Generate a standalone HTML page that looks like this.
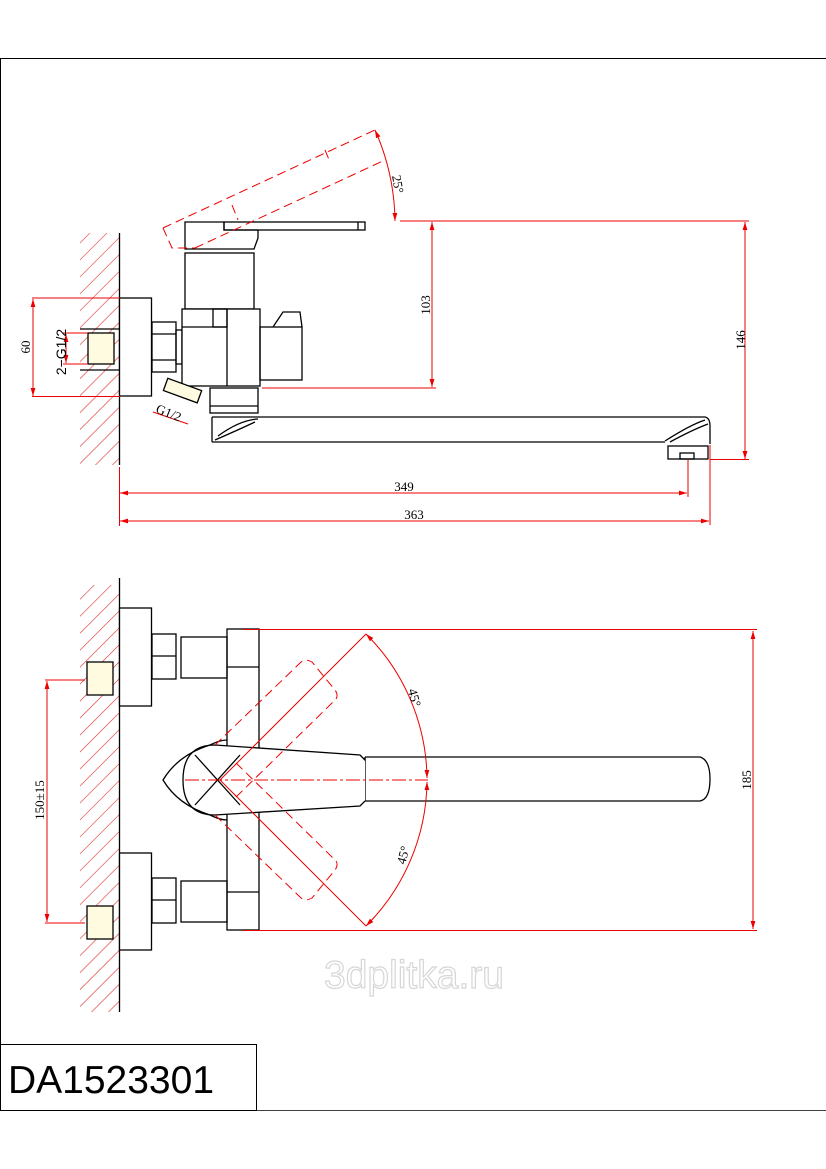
<!DOCTYPE html>
<html><head><meta charset="utf-8"><style>
html,body{margin:0;padding:0;background:#fff;}
svg{display:block;}
text{font-family:"Liberation Serif",serif;}
</style></head><body>
<svg width="826" height="1169" viewBox="0 0 826 1169" xmlns="http://www.w3.org/2000/svg">
<defs>
<pattern id="h" width="12" height="12" patternUnits="userSpaceOnUse" patternTransform="rotate(45)">
<line x1="0" y1="0" x2="0" y2="12" stroke="#e03030" stroke-width="1.2"/>
</pattern>
<marker id="a" viewBox="0 0 10 10" refX="10" refY="5" markerWidth="8" markerHeight="8" orient="auto-start-reverse"><path d="M0,2 L10,5 L0,8z" fill="#e00"/></marker>
</defs>
<!-- frame -->
<line x1="0" y1="58.5" x2="826" y2="58.5" stroke="#000"/>
<line x1="0.5" y1="58" x2="0.5" y2="1111" stroke="#000"/>
<line x1="0" y1="1110.5" x2="826" y2="1110.5" stroke="#000" stroke-width="0.7"/>
<rect x="0.5" y="1044.5" width="256" height="66" fill="none" stroke="#000"/>
<text x="8" y="1093" style="font-family:'Liberation Sans',sans-serif" font-size="39">DA1523301</text>

<g fill="none" stroke="#000" stroke-width="1.3">
<!-- TOP VIEW -->
<rect x="80" y="233" width="39" height="232" fill="url(#h)" stroke="none"/>
<line x1="119.5" y1="233" x2="119.5" y2="465"/>
<rect x="88" y="333" width="26" height="31" fill="#fffbe0"/>
<line x1="80" y1="329" x2="120" y2="329"/><line x1="80" y1="370" x2="120" y2="370"/>
<rect x="119.5" y="298" width="32" height="98" fill="#fff"/>
<rect x="152" y="322" width="24" height="50"/>
<line x1="152" y1="334" x2="176" y2="334"/><line x1="152" y1="360" x2="176" y2="360"/>
<rect x="176" y="330" width="6" height="34"/>
<rect x="185" y="253" width="69" height="56"/>
<rect x="182" y="309" width="78" height="77" fill="#fff"/>
<line x1="227" y1="309" x2="227" y2="386"/>
<rect x="213" y="309" width="14" height="18"/>
<line x1="182" y1="327" x2="227" y2="327"/>
<rect x="260" y="327" width="42" height="53"/>
<path d="M273,327 L283,312 L300,312 L302,327"/>
<rect x="210" y="388" width="48" height="25"/>
<line x1="210" y1="406" x2="258" y2="406"/>
<path d="M185,222 L185,249 L254,249 L258,238 L258,230 L224,230 L224,222 Z"/>
<rect x="224" y="222" width="141" height="8"/>
<line x1="358" y1="222" x2="358" y2="230"/>
<path d="M212,417 L705,417 Q710,418 710,426 L710,444"/>
<line x1="212" y1="417" x2="212" y2="442"/>
<line x1="212" y1="442" x2="665" y2="442"/>
<path d="M218,436 Q240,420 258,419 M215,440 Q238,430 255,422"/>
<path d="M665,441 Q690,425 705,420 M670,442 Q692,430 708,424"/>
<rect x="668" y="446" width="40" height="13"/>
<rect x="680" y="453" width="14" height="6"/>
<g transform="rotate(20 182 392)"><rect x="164" y="384" width="36" height="13" fill="#fffbe0"/></g>
</g>
<!-- top red dims -->
<g fill="none" stroke="#e00" stroke-width="1">
<g stroke-dasharray="9,5"><path d="M163,228 L375,130 M195,248 L385,160 M163,228 L172,248 L195,248"/><path d="M325,150 L330,162"/><path d="M232,205 L238,220"/></g>
<path d="M375,130 A 230 230 0 0 1 395 221" marker-start="url(#a)" marker-end="url(#a)"/>
<line x1="400" y1="221" x2="749" y2="221"/>
<line x1="262" y1="388" x2="436" y2="388"/>
<line x1="432" y1="222" x2="432" y2="387" marker-start="url(#a)" marker-end="url(#a)"/>
<line x1="745" y1="222" x2="745" y2="459" marker-start="url(#a)" marker-end="url(#a)"/>
<line x1="710" y1="459.5" x2="749" y2="459.5"/>
<line x1="32" y1="298" x2="120" y2="298"/><line x1="32" y1="396.5" x2="120" y2="396.5"/>
<line x1="33" y1="299" x2="33" y2="396" marker-start="url(#a)" marker-end="url(#a)"/>
<line x1="63" y1="333" x2="88" y2="333"/><line x1="63" y1="364" x2="88" y2="364"/>
<line x1="66" y1="334" x2="66" y2="363" marker-start="url(#a)" marker-end="url(#a)"/>
<line x1="119.5" y1="467" x2="119.5" y2="526"/>
<line x1="688" y1="460" x2="688" y2="497"/>
<line x1="710" y1="445" x2="710" y2="525"/>
<line x1="120" y1="493" x2="687" y2="493" marker-start="url(#a)" marker-end="url(#a)"/>
<line x1="120" y1="521" x2="709" y2="521" marker-start="url(#a)" marker-end="url(#a)"/>
<line x1="153" y1="412" x2="188" y2="424"/>
</g>
<g fill="#000" font-size="13">
<text x="392" y="176" transform="rotate(80 392 176)">25°</text>
<text x="430" y="305" transform="rotate(-90 430 305)" text-anchor="middle">103</text>
<text x="745" y="340" transform="rotate(-90 745 340)" text-anchor="middle">146</text>
<text x="30" y="347" transform="rotate(-90 30 347)" text-anchor="middle">60</text>
<text x="66" y="352" transform="rotate(-90 66 352)" text-anchor="middle" style="font-family:'Liberation Sans',sans-serif" font-size="14">2−G1/2</text>
<text x="155" y="412" transform="rotate(22 155 412)">G1/2</text>
<text x="404" y="491" text-anchor="middle">349</text>
<text x="414" y="519" text-anchor="middle">363</text>
</g>

<!-- BOTTOM VIEW -->
<g fill="none" stroke="#000" stroke-width="1.3">
<rect x="80" y="585" width="39" height="427" fill="url(#h)" stroke="none"/>
<line x1="119.5" y1="578" x2="119.5" y2="1012"/>
<rect x="87" y="662" width="26" height="33" fill="#fffbe0"/>
<rect x="87" y="906" width="26" height="33" fill="#fffbe0"/>
<rect x="119.5" y="608" width="32" height="98" fill="#fff"/>
<rect x="119.5" y="853" width="32" height="97" fill="#fff"/>
<rect x="152" y="634" width="24" height="45"/><line x1="152" y1="656" x2="176" y2="656"/>
<rect x="152" y="878" width="24" height="45"/><line x1="152" y1="900" x2="176" y2="900"/>
<rect x="181" y="637" width="46" height="41"/>
<rect x="181" y="881" width="46" height="41"/>
<rect x="227" y="629" width="32" height="301"/>
<line x1="227" y1="667" x2="259" y2="667"/><line x1="227" y1="892" x2="259" y2="892"/>
<path d="M365,757 L700,757 Q710,760 710,779 Q710,799 700,801 L365,801"/>
<line x1="365" y1="758" x2="365" y2="801"/>
<path d="M365,757 L365,760 L360,755 L215,745 Q183,745 183,780 Q183,815 215,815 L360,806 L365,801" fill="#fff"/>
<path d="M227,740 Q220,740 210,745 Q178,755 163,780 Q178,805 210,815 Q220,820 227,820"/>
<path d="M195,755 L240,805 M195,805 L240,755"/>
</g>
<g fill="none" stroke="#e00" stroke-width="1">
<line x1="243" y1="629.5" x2="757" y2="629.5"/>
<line x1="243" y1="930.5" x2="757" y2="930.5"/>
<line x1="753" y1="631" x2="753" y2="929" marker-start="url(#a)" marker-end="url(#a)"/>
<line x1="185" y1="780" x2="428" y2="780" stroke-dasharray="14,3,3,3"/>
<line x1="220" y1="780" x2="366" y2="634"/>
<line x1="220" y1="780" x2="366" y2="926"/>
<path d="M366,634 A207,207 0 0 1 427,778" marker-start="url(#a)" marker-end="url(#a)"/>
<path d="M427,782 A207,207 0 0 1 366,926" marker-start="url(#a)" marker-end="url(#a)"/>
<g stroke-dasharray="9,5">
<path d="M215,745 L300,663 Q305,658 312,662 L335,690 Q340,697 333,702 L233,800"/>
<path d="M215,815 L300,897 Q305,902 312,898 L335,870 Q340,863 333,858 L233,760"/>
</g>
<line x1="45" y1="680" x2="85" y2="680"/><line x1="45" y1="923" x2="85" y2="923"/>
<line x1="47" y1="681" x2="47" y2="922" marker-start="url(#a)" marker-end="url(#a)"/>
</g>
<g fill="#000" font-size="13">
<text x="408" y="690" transform="rotate(75 408 690)">45°</text>
<text x="405" y="865" transform="rotate(-75 405 865)">45°</text>
<text x="751" y="780" transform="rotate(-90 751 780)" text-anchor="middle">185</text>
<text x="44" y="800" transform="rotate(-90 44 800)" text-anchor="middle">150±15</text>
</g>
<text x="414" y="988" text-anchor="middle" font-size="39" fill="none" stroke="#d6d6d6" stroke-width="1.2" style="font-family:'Liberation Sans',sans-serif">3dplitka.ru</text>
</svg>
</body></html>
